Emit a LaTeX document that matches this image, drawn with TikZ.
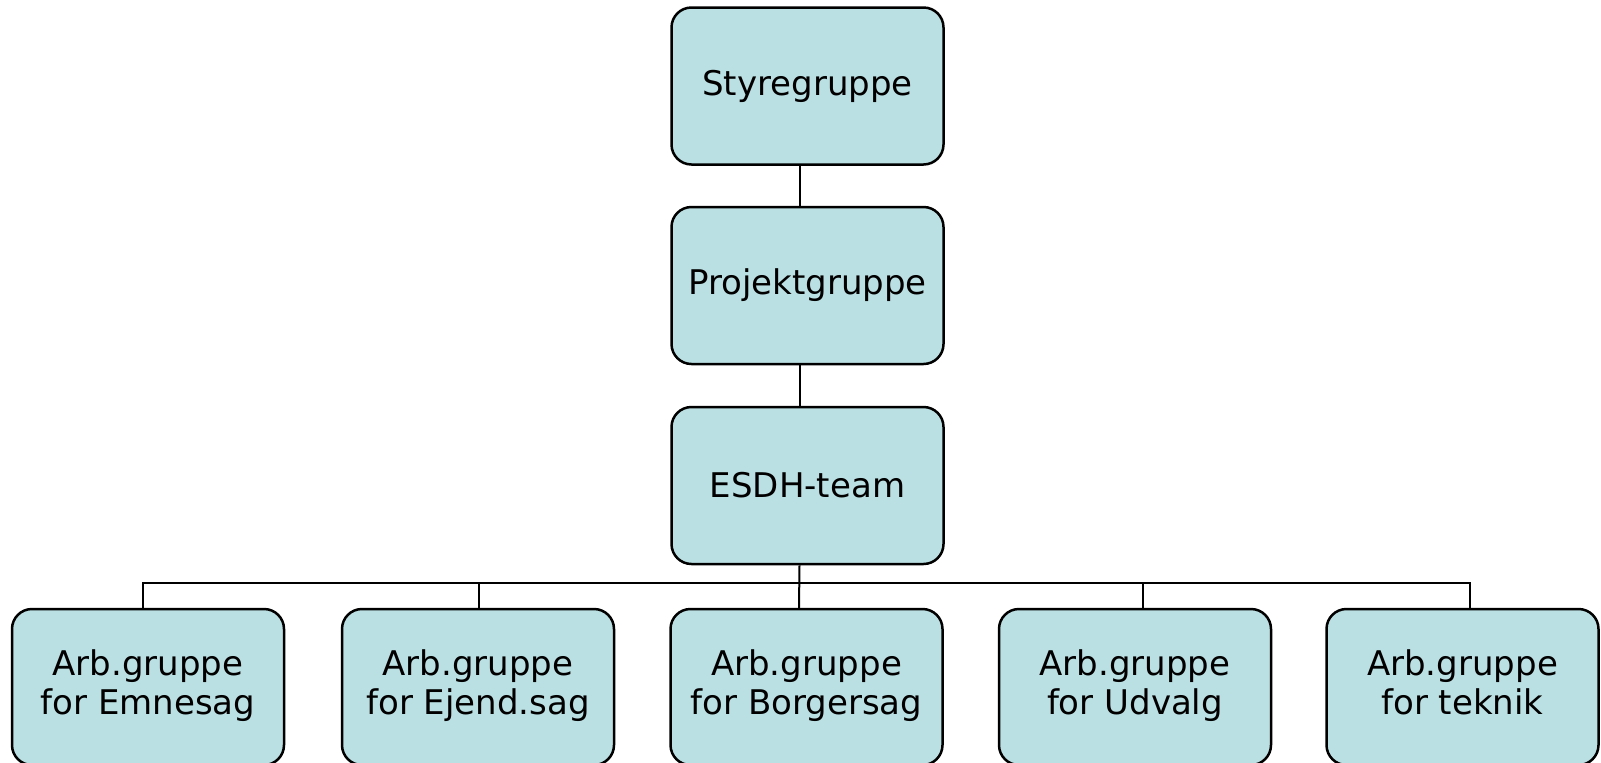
\documentclass[tikz,border=0pt]{standalone}
\usepackage{fontspec}
\setmainfont{DejaVu Sans}
\definecolor{boxblue}{RGB}{187,224,227}
\tikzset{grp/.style={draw, line width=1.25pt, rounded corners=10pt, fill=boxblue,
  minimum width=136pt, minimum height=78.5pt, inner sep=0pt, align=center,
  font=\fontsize{17}{19.5}\selectfont},
  arb/.style={grp, minimum height=78pt, execute at end node=\strut},
  link/.style={line width=1pt}}

\begin{document}
\begin{tikzpicture}[x=0.5pt, y=-0.5pt]
\useasboundingbox (0,0) rectangle (1601,762);
\node[grp] (sty) at (807.5,86){Styregruppe};
\node[grp] (proj) at (807.5,285.5){Projektgruppe};
\node[grp] (esdh) at (807.5,485.5){ESDH-team};
\node[arb] (emne) at (148,687){\strut Arb.gruppe\\for Emnesag};
\node[arb] (ejend) at (478,687){\strut Arb.gruppe\\for Ejend.sag};
\node[arb] (borger) at (806.5,687){\strut Arb.gruppe\\for Borgersag};
\node[arb] (udvalg) at (1135,687){\strut Arb.gruppe\\for Udvalg};
\node[arb] (tek) at (1462.5,687){\strut Arb.gruppe\\for teknik};
\coordinate (bus) at (799,583);
\draw[link] ([xshift=-4pt]sty.south) -- ([xshift=-4pt]proj.north);
\draw[link] ([xshift=-4pt]proj.south) -- ([xshift=-4pt]esdh.north);
\draw[link] ([xshift=-4pt]esdh.south) -- ([xshift=-3.75pt]borger.north);
\draw[link] ([xshift=-2.5pt]emne.north) |- (bus) -| ([xshift=3.5pt]tek.north);
\draw[link] ([xshift=0.5pt]ejend.north) -- ([xshift=0.5pt]ejend.north |- bus);
\draw[link] ([xshift=4pt]udvalg.north) -- ([xshift=4pt]udvalg.north |- bus);
\end{tikzpicture}
\end{document}
